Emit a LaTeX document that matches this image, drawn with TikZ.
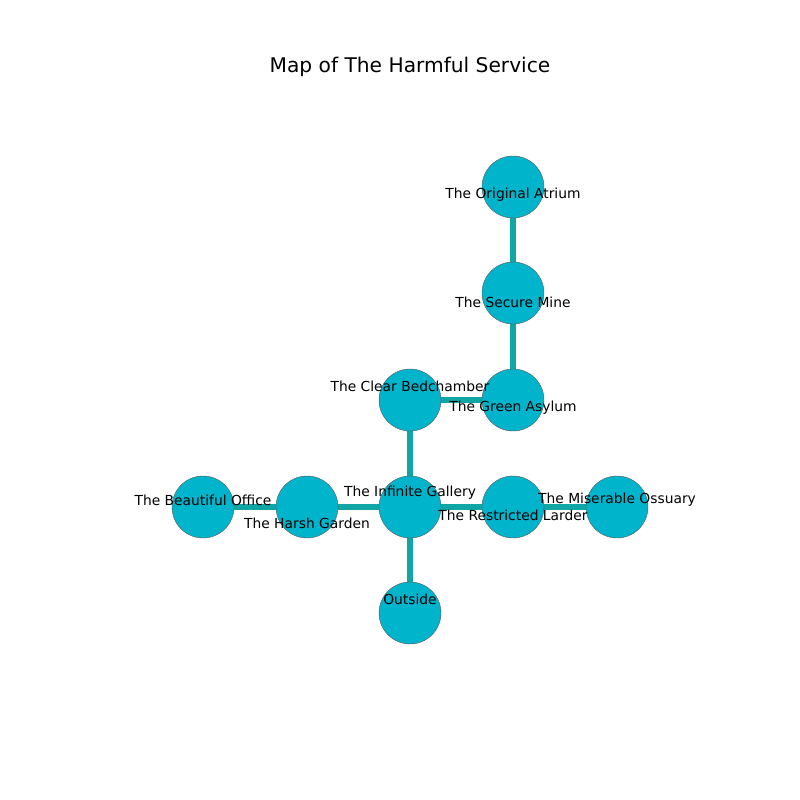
\documentclass[tikz,border=0pt]{standalone}
\usepackage{fontspec}
\setmainfont{DejaVu Sans}
\usetikzlibrary{backgrounds}
\definecolor{roomfill}{HTML}{00B4CC}
\definecolor{passage}{HTML}{10A6A6}
\newlength{\px}
\setlength{\px}{0.0254cm}
\tikzset{
  room/.style={circle, fill=roomfill, draw=gray!70!black, line width=0.3pt, minimum size=62\px, inner sep=0pt},
  passageway/.style={draw=passage, line width=4pt},
  roomname/.style={font=\fontsize{10}{12}\selectfont, inner sep=0pt, yshift=-2\px},
}
\begin{document}
\begin{tikzpicture}[x=0.0254cm, y=-0.0254cm]
\useasboundingbox (0,0) rectangle (800,800);
% Title
\node[font=\fontsize{14.6}{17}\selectfont] (title) at (410,67) {Map of The Harmful Service};
% Rooms
\node[room] (atrium) at (513,187) {};
\node[room] (mine) at (513,293) {};
\node[room] (asylum) at (513,400) {};
\node[room] (bedchamber) at (410,400) {};
\node[room] (gallery) at (410,507) {};
\node[room] (larder) at (513,507) {};
\node[room] (ossuary) at (617,507) {};
\node[room] (garden) at (307,507) {};
\node[room] (office) at (203,507) {};
\node[room] (outside) at (410,613) {};
% Passages
\begin{scope}[on background layer]
\draw[passageway] (atrium) -- (mine);
\draw[passageway] (mine) -- (asylum);
\draw[passageway] (asylum) -- (bedchamber);
\draw[passageway] (bedchamber) -- (gallery);
\draw[passageway] (gallery) -- (larder);
\draw[passageway] (larder) -- (ossuary);
\draw[passageway] (gallery) -- (garden);
\draw[passageway] (garden) -- (office);
\draw[passageway] (gallery) -- (outside);
\end{scope}
% Room names
\node[roomname] (atrium-name) at (513,193) {The Original Atrium};
\node[roomname] (mine-name) at (513,300) {The Secure Mine};
\node[roomname] (asylum-name) at (513,406) {The Green Asylum};
\node[roomname] (bedchamber-name) at (410,384) {The Clear Bedchamber};
\node[roomname] (gallery-name) at (410,491) {The Infinite Gallery};
\node[roomname] (larder-name) at (513,513) {The Restricted Larder};
\node[roomname] (ossuary-name) at (617,498) {The Miserable Ossuary};
\node[roomname] (garden-name) at (307,521) {The Harsh Garden};
\node[roomname] (office-name) at (203,498) {The Beautiful Office};
\node[roomname] (outside-name) at (410,597) {Outside};
\end{tikzpicture}
\end{document}
